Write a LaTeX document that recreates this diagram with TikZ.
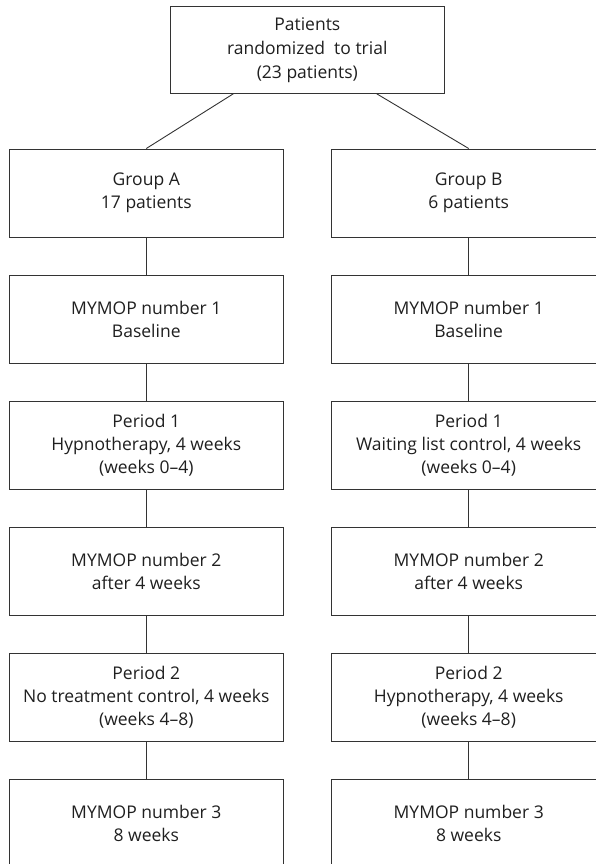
\documentclass[tikz,border=0pt]{standalone}
\usepackage{fontspec}
\setmainfont{Open Sans}
\begin{document}
\begin{tikzpicture}[x=1pt,y=-1pt,
  box/.style={draw=black!80, line width=0.9pt, rectangle, minimum width=274pt, minimum height=88.5pt,
    align=center, inner sep=0pt, font=\fontsize{17.5}{23}\selectfont, text=black!88},
  conn/.style={draw=black!80, line width=0.9pt}]
\useasboundingbox (0,0) rectangle (596,864);
\clip (0,0) rectangle (596,864);
\node[box, minimum width=273.3pt, minimum height=87.3pt, font=\fontsize{17.5}{24}\selectfont] (top) at (307.3,49.7) {Patients\\randomized\ \ to trial\\(23 patients)};
\node[box] (a1) at (146.3,193.2) {Group A\\17 patients};
\node[box] (a2) at (146.3,319.2) {MYMOP number 1\\Baseline};
\node[box] (a3) at (146.3,445.2) {Period 1\\Hypnotherapy, 4 weeks\\(weeks 0--4)};
\node[box] (a4) at (146.3,571.2) {MYMOP number 2\\after 4 weeks};
\node[box] (a5) at (146.3,697.2) {Period 2\\No treatment control, 4 weeks\\(weeks 4--8)};
\node[box] (a6) at (146.3,823.2) {MYMOP number 3\\8 weeks};
\node[box] (b1) at (468.7,193.2) {Group B\\6 patients};
\node[box] (b2) at (468.7,319.2) {MYMOP number 1\\Baseline};
\node[box] (b3) at (468.7,445.2) {Period 1\\Waiting list control, 4 weeks\\(weeks 0--4)};
\node[box] (b4) at (468.7,571.2) {MYMOP number 2\\after 4 weeks};
\node[box] (b5) at (468.7,697.2) {Period 2\\Hypnotherapy, 4 weeks\\(weeks 4--8)};
\node[box] (b6) at (468.7,823.2) {MYMOP number 3\\8 weeks};
\coordinate (tl) at ([xshift=-74pt]top.south);
\coordinate (tr) at ([xshift=69.4pt]top.south);
\draw[conn] (tl) -- (a1.north);
\draw[conn] (tr) -- (b1.north);
\foreach \c in {a,b}{
  \draw[conn] (\c1) -- (\c2);
  \draw[conn] (\c2) -- (\c3);
  \draw[conn] (\c3) -- (\c4);
  \draw[conn] (\c4) -- (\c5);
  \draw[conn] (\c5) -- (\c6);
}
\end{tikzpicture}
\end{document}
